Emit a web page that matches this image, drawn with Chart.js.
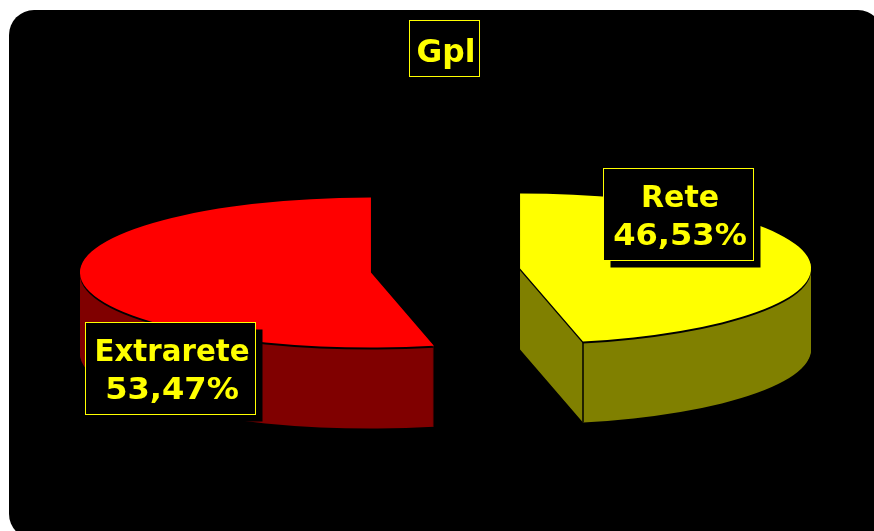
<!DOCTYPE html>
<html>
<head>
<meta charset="utf-8">
<title>Gpl</title>
<script src="https://cdn.jsdelivr.net/npm/chart.js@4"></script>
<style>
    html, body { margin: 0; padding: 0; background: #fff; overflow: hidden; }
    #fondo { position: absolute; left: 9px; top: 10px; width: 874px; height: 529px; background: #000; border-radius: 25px; }
    #grafico { position: absolute; left: 0; top: 0; }
</style>
</head>
<body>
<div id="fondo"></div>
<canvas id="grafico" width="874" height="531"></canvas>
<script>
// Dati del grafico
const titolo = 'Gpl';
const categorie = ['Rete', 'Extrarete'];
const valori = [46.53, 53.47];
const coloriSopra = ['#ffff00', '#ff0000'];
const coloriLato = ['#808000', '#800000'];

// Aspetto della torta 3D
const raggio = 291;
const schiacciamento = 75 / 291;
const esplosione = 75;
const profondita = 81;

// Riquadri delle etichette: [x, y, larghezza, altezza]
const boxTitolo = [409.5, 20.5, 70, 56];
const boxEtichette = [[603.5, 168.5, 150, 92], [85.5, 322.5, 170, 92]];
const ombra = 7;
const giallo = '#ffff00';
const fontTitolo = 'bold 32px "DejaVu Sans"';
const fontEtichette = 'bold 30px "DejaVu Sans"';

// Il testo originale ha larghezze un po' diverse dal DejaVu a queste misure
const largoTitolo = 0.98;
const largoNome = [1.0, 0.975];
const largoValore = 1.07;

function disegnaFetta(ctx, arco, colore, dx, dy) {
    const meta = (arco.startAngle + arco.endAngle) / 2;
    const copia = Object.create(arco);
    copia.options = Object.assign({}, arco.options, { backgroundColor: colore, borderWidth: 0 });
    ctx.save();
    ctx.translate(arco.x + Math.cos(meta) * esplosione + dx, arco.y + Math.sin(meta) * esplosione * schiacciamento + dy);
    ctx.scale(1, schiacciamento);
    ctx.translate(-arco.x, -arco.y);
    copia.draw(ctx);
    ctx.restore();
}

// righe: [[testo, fattore di larghezza], ...]
function disegnaBox(ctx, box, righe, font, conOmbra) {
    const [x, y, w, h] = box;
    if (conOmbra) {
        ctx.fillStyle = '#000';
        ctx.fillRect(x + ombra, y + ombra, w, h);
    }
    ctx.fillStyle = '#000';
    ctx.fillRect(x, y, w, h);
    ctx.strokeStyle = giallo;
    ctx.lineWidth = 1;
    ctx.strokeRect(x, y, w, h);
    ctx.fillStyle = giallo;
    ctx.font = font;
    ctx.textAlign = 'center';
    ctx.textBaseline = 'alphabetic';
    const primaRiga = righe.length > 1 ? y + h / 2 - 7.5 : y + h / 2 + 13.5;
    righe.forEach(([riga, largo], i) => {
        ctx.save();
        ctx.translate(x + w / 2 + 1.5, primaRiga + i * 38);
        ctx.scale(largo, 1);
        ctx.fillText(riga, 0, 0);
        ctx.restore();
    });
}

const torta3d = {
    id: 'torta3d',
    beforeDatasetsDraw(chart) {
        const ctx = chart.ctx;
        const archi = chart.getDatasetMeta(0).data;

        // Fianchi: la stessa fetta ripetuta verso il basso
        archi.forEach((arco, i) => {
            for (let d = profondita; d >= 1; d--) {
                disegnaFetta(ctx, arco, coloriLato[i], 0, d);
            }
        });

        // Spigolo verticale della fetta gialla
        const rete = archi[0];
        const mezzo = (rete.startAngle + rete.endAngle) / 2;
        const xSpigolo = rete.x + Math.cos(mezzo) * esplosione + Math.cos(rete.endAngle) * raggio;
        const ySpigolo = rete.y + (Math.sin(mezzo) * esplosione + Math.sin(rete.endAngle) * raggio) * schiacciamento;
        ctx.strokeStyle = '#000';
        ctx.lineWidth = 1.5;
        ctx.beginPath();
        ctx.moveTo(xSpigolo, ySpigolo);
        ctx.lineTo(xSpigolo, ySpigolo + profondita);
        ctx.stroke();

        // Bordo nero e faccia superiore
        archi.forEach((arco) => disegnaFetta(ctx, arco, '#000', 0, 2));
        archi.forEach((arco, i) => disegnaFetta(ctx, arco, coloriSopra[i], 0, 0));
        return false;
    },
    afterDraw(chart) {
        const ctx = chart.ctx;
        disegnaBox(ctx, boxTitolo, [[titolo, largoTitolo]], fontTitolo, false);
        categorie.forEach((nome, i) => {
            const testoValore = valori[i].toFixed(2).replace('.', ',') + '%';
            disegnaBox(ctx, boxEtichette[i], [[nome, largoNome[i]], [testoValore, largoValore]], fontEtichette, true);
        });
    }
};

new Chart(document.getElementById('grafico').getContext('2d'), {
    type: 'pie',
    data: {
        labels: categorie,
        datasets: [{
            data: valori,
            backgroundColor: coloriSopra,
            borderWidth: 0,
            radius: raggio
        }]
    },
    options: {
        responsive: false,
        animation: false,
        radius: raggio,
        layout: { padding: { left: 17, top: 10 } },
        plugins: { legend: { display: false }, tooltip: { enabled: false } }
    },
    plugins: [torta3d]
});
</script>
</body>
</html>
